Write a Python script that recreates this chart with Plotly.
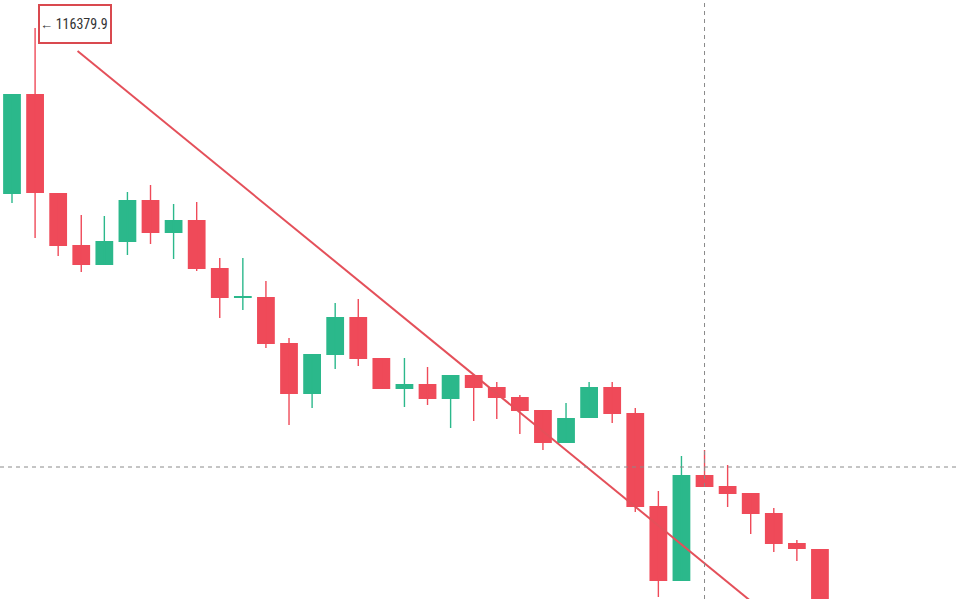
import plotly.graph_objects as go

# ---- data ----
idx = list(range(36))
opens = [115052, 115852, 115060, 114644, 114484, 114668, 115004, 114740, 114844, 114460,
         114220, 114228, 113860, 113452, 113764, 114068, 113740, 113492, 113532, 113412,
         113604, 113508, 113428, 113324, 113060, 113260, 113508, 113300, 112556, 111956,
         112804, 112716, 112660, 112500, 112260, 112212]
highs = [115852, 116379.9, 115060, 114884, 114876, 115068, 115124, 114972, 114988, 114540,
         114540, 114356, 113900, 113772, 114180, 114212, 113740, 113740, 113668, 113604,
         113604, 113548, 113444, 113324, 113380, 113548, 113548, 113340, 112676, 112956,
         113004, 112884, 112660, 112540, 112284, 112212]
lows = [114980, 114700, 114556, 114428, 114484, 114564, 114652, 114532, 114436, 114060,
        114124, 113820, 113204, 113340, 113652, 113676, 113492, 113348, 113364, 113180,
        113236, 113252, 113132, 113004, 113060, 113260, 113220, 112508, 111828, 111956,
        112708, 112548, 112332, 112188, 112116, 111564]
closes = [115852, 115060, 114636, 114484, 114676, 115004, 114740, 114844, 114452, 114220,
          114236, 113852, 113452, 113772, 114068, 113732, 113492, 113532, 113412, 113604,
          113500, 113420, 113316, 113060, 113260, 113508, 113292, 112548, 111956, 112804,
          112708, 112652, 112492, 112252, 112212, 111644]

trend_x = [2.84, 35.0]
trend_y = [116196, 111343]

crosshair_x = 30
crosshair_y = 112868

label_text = "116379.9"

GREEN = "#2bb88b"
RED = "#ef4a59"

up = [c >= o for o, c in zip(opens, closes)]

fig = go.Figure()

# wicks
for flag, col in [(True, GREEN), (False, RED)]:
    wx, wy = [], []
    for i in idx:
        if up[i] == flag:
            wx += [i, i, None]
            wy += [lows[i], highs[i], None]
    fig.add_trace(go.Scatter(x=wx, y=wy, mode="lines",
                             line=dict(color=col, width=1.4),
                             hoverinfo="skip", showlegend=False))

# bodies
for flag, col in [(True, GREEN), (False, RED)]:
    bx, bb, bh = [], [], []
    for i in idx:
        if up[i] == flag:
            lo = min(opens[i], closes[i])
            hi = max(opens[i], closes[i])
            bx.append(i)
            bb.append(lo)
            bh.append(max(hi - lo, 14))
    fig.add_trace(go.Bar(x=bx, y=bh, base=bb, width=0.77,
                         marker=dict(color=col, line=dict(width=0)),
                         showlegend=False))

# trend line
fig.add_trace(go.Scatter(x=trend_x, y=trend_y, mode="lines",
                         line=dict(color="#e4505a", width=2),
                         hoverinfo="skip", showlegend=False))

# crosshair
fig.add_shape(type="line", xref="paper", yref="y", x0=0, x1=1,
              y0=crosshair_y, y1=crosshair_y,
              line=dict(color="#8a8a8a", width=1, dash="4px,4px"))
fig.add_shape(type="line", xref="x", yref="paper", x0=crosshair_x, x1=crosshair_x,
              y0=0, y1=1,
              line=dict(color="#8a8a8a", width=1, dash="4px,4px"))

# label for highest high
hi_i = max(idx, key=lambda i: highs[i])
fig.add_annotation(x=hi_i, y=highs[hi_i], xref="x", yref="y",
                   text="<span style='font-size:13px'>←</span>\u2009" + label_text,
                   showarrow=False, xanchor="left", yanchor="middle",
                   xshift=3, yshift=4, align="left",
                   width=70, height=36,
                   bordercolor="#d9494f", borderwidth=2, borderpad=0,
                   bgcolor="rgba(255,255,255,0)",
                   font=dict(family="Liberation Sans Narrow, Roboto Condensed, Roboto",
                             size=14, color="#333333"))

fig.update_layout(
    width=958, height=599,
    margin=dict(l=0, r=0, t=0, b=0),
    paper_bgcolor="white", plot_bgcolor="white",
    barmode="overlay", showlegend=False,
    xaxis=dict(range=[-0.52, 40.98], visible=False, fixedrange=True),
    yaxis=dict(range=[111812, 116604], visible=False, fixedrange=True),
)

fig.write_html("out.html", config={"displayModeBar": False},
               post_script="document.body.style.margin='0';document.body.style.overflow='hidden';")
